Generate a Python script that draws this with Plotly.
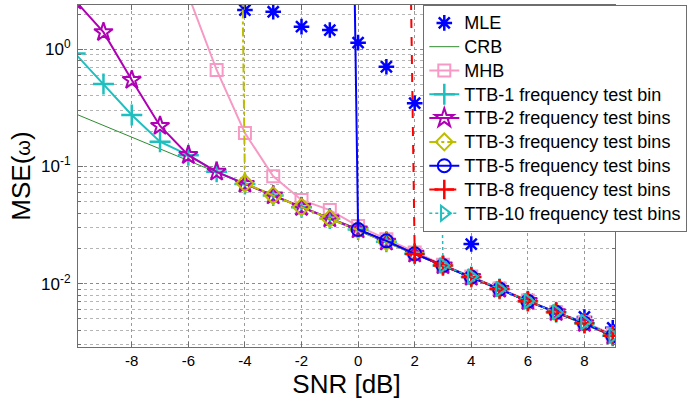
import plotly.graph_objects as go

snr_all = list(range(-10, 10))

crb = [0.282, 0.224, 0.178, 0.141, 0.112, 0.089, 0.0708, 0.0562, 0.0447, 0.0355,
       0.0282, 0.0224, 0.0178, 0.0141, 0.0112, 0.0089, 0.00708, 0.00562, 0.00447, 0.00355]

mle_snr = [-4, -3, -2, -1, 0, 1, 2, 3, 4, 5, 6, 7, 8, 9]
mle = [2.16, 2.09, 1.56, 1.46, 1.14, 0.71, 0.347, 0.07, 0.0218, 0.0092, 0.0073, 0.0058, 0.0052, 0.0042]

mhb_snr = list(range(-6, 10))
mhb = [2.9, 0.666, 0.193, 0.0825, 0.0518, 0.0425, 0.031, 0.024, 0.0185, 0.0145,
       0.0115, 0.0091, 0.0072, 0.0057, 0.0047, 0.0037]

ttb1 = [0.92, 0.505, 0.275, 0.163, 0.125, 0.090, 0.071, 0.0565, 0.045, 0.036,
        0.029, 0.0228, 0.018, 0.0143, 0.0114, 0.0090, 0.0071, 0.0057, 0.0046, 0.0036]
ttb2 = [2.6, 1.40, 0.547, 0.222, 0.125, 0.090, 0.071, 0.0565, 0.045, 0.036,
        0.029, 0.0228, 0.018, 0.0143, 0.0114, 0.0090, 0.0071, 0.0057, 0.0046, 0.0036]

ttb3_snr = list(range(-5, 10))
ttb3 = [1e18, 0.072, 0.0565, 0.045, 0.036, 0.029, 0.0228, 0.018, 0.0143, 0.0114,
        0.0090, 0.0071, 0.0057, 0.0046, 0.0036]

ttb5_snr = list(range(-1, 10))
ttb5 = [1e15, 0.029, 0.0232, 0.018, 0.0143, 0.0114, 0.0090, 0.0071, 0.0057, 0.0046, 0.0036]

ttb8_snr = list(range(1, 10))
ttb8 = [1e15, 0.0179, 0.0143, 0.0114, 0.0090, 0.0071, 0.0057, 0.0046, 0.0036]

ttb10_snr = list(range(2, 10))
ttb10 = [1e15, 0.0143, 0.0115, 0.0090, 0.0071, 0.0057, 0.0047, 0.0036]

x_ticks = [-8, -6, -4, -2, 0, 2, 4, 6, 8]
x_ticktext = ["-8", "-6", "-4", "-2", "0", "2", "4", "6", "8"]
y_ticks = [1, 0.1, 0.01]
y_ticktext = ["10<sup>0</sup>", "10<sup>-1</sup>", "10<sup>-2</sup>"]

FONT = "Liberation Sans, Arial, sans-serif"


def lg(name):
    return "<span style='font-size:18px'>" + name + "</span>"


fig = go.Figure()

fig.add_trace(go.Scatter(x=mle_snr, y=mle, mode="markers", name=lg("MLE"),
                         marker=dict(symbol="asterisk-open", size=13, color="#0000FF",
                                     line=dict(width=2.5, color="#0000FF"))))
fig.add_trace(go.Scatter(x=snr_all, y=crb, mode="lines", name=lg("CRB"),
                         line=dict(color="#2E8B2E", width=1)))
fig.add_trace(go.Scatter(x=mhb_snr, y=mhb, mode="lines+markers", name=lg("MHB"),
                         line=dict(color="#F799C5", width=2),
                         marker=dict(symbol="square-open", size=12, color="#F799C5",
                                     line=dict(width=2, color="#F799C5"))))
fig.add_trace(go.Scatter(x=snr_all, y=ttb1, mode="lines+markers", name=lg("TTB-1 frequency test bin"),
                         line=dict(color="#1FBFBF", width=2),
                         marker=dict(symbol="cross-thin-open", size=15, color="#1FBFBF",
                                     line=dict(width=2.5, color="#1FBFBF"))))
fig.add_trace(go.Scatter(x=snr_all, y=ttb2, mode="lines+markers", name=lg("TTB-2 frequency test bins"),
                         line=dict(color="#B000B5", width=2),
                         marker=dict(symbol="star-open", size=14, color="#B000B5",
                                     line=dict(width=2, color="#B000B5"))))
fig.add_trace(go.Scatter(x=ttb3_snr, y=ttb3, mode="lines+markers", name=lg("TTB-3 frequency test bins"),
                         line=dict(color="#BDBD00", width=2, dash="dashdot"),
                         marker=dict(symbol="diamond-open", size=13, color="#BDBD00",
                                     line=dict(width=2, color="#BDBD00"))))
fig.add_trace(go.Scatter(x=ttb5_snr, y=ttb5, mode="lines+markers", name=lg("TTB-5 frequency test bins"),
                         line=dict(color="#0000FF", width=2),
                         marker=dict(symbol="circle-open", size=13, color="#0000FF",
                                     line=dict(width=2, color="#0000FF"))))
fig.add_trace(go.Scatter(x=ttb8_snr, y=ttb8, mode="lines+markers", name=lg("TTB-8 frequency test bins"),
                         line=dict(color="#FF0000", width=2, dash="dash"),
                         marker=dict(symbol="cross-thin-open", size=14, color="#FF0000",
                                     line=dict(width=2.5, color="#FF0000"))))
fig.add_trace(go.Scatter(x=ttb10_snr, y=ttb10, mode="lines+markers", name=lg("TTB-10 frequency test bins"),
                         line=dict(color="#22BDBD", width=1.5, dash="dot"),
                         marker=dict(symbol="triangle-right-open", size=13, color="#22BDBD",
                                     line=dict(width=2, color="#22BDBD"))))

minor_vals = [m * 10 ** e for e in range(-3, 1) for m in range(2, 10)]

fig.update_layout(
    width=699, height=403,
    margin=dict(l=78, r=84, t=5, b=56),
    paper_bgcolor="white", plot_bgcolor="white",
    font=dict(family=FONT, color="black", size=15),
    showlegend=True,
    legend=dict(x=0.643, y=1, xanchor="left", yanchor="top",
                bgcolor="white", bordercolor="#6e6e6e", borderwidth=1,
                font=dict(family=FONT, size=16, color="black"),
                itemwidth=30, tracegroupgap=0),
)

fig.update_xaxes(
    range=[-9.9, 9.08], tickvals=x_ticks, ticktext=x_ticktext,
    showgrid=True, gridcolor="#9a9a9a", griddash="dot", gridwidth=1,
    showline=True, linecolor="#6e6e6e", linewidth=1, mirror="ticks",
    ticks="inside", ticklen=5, tickcolor="#6e6e6e",
    zeroline=False, tickfont=dict(size=15),
    title=dict(text="SNR [dB]", font=dict(size=26), standoff=6),
)
fig.update_yaxes(
    type="log", range=[-2.54, 0.378], tickvals=y_ticks, ticktext=y_ticktext,
    showgrid=True, gridcolor="#8a8a8a", griddash="dot", gridwidth=1,
    minor=dict(tickvals=minor_vals, showgrid=True, gridcolor="#b5b5b5",
               griddash="dot", ticks="inside", ticklen=3, tickcolor="#6e6e6e"),
    showline=True, linecolor="#6e6e6e", linewidth=1, mirror="ticks",
    ticks="inside", ticklen=5, tickcolor="#6e6e6e",
    zeroline=False, tickfont=dict(size=17), ticklabelstandoff=3,
    title=dict(text="MSE(<span style='font-size:20px'>ω</span>)", font=dict(size=26), standoff=2),
)

fig.write_html("out.html")
